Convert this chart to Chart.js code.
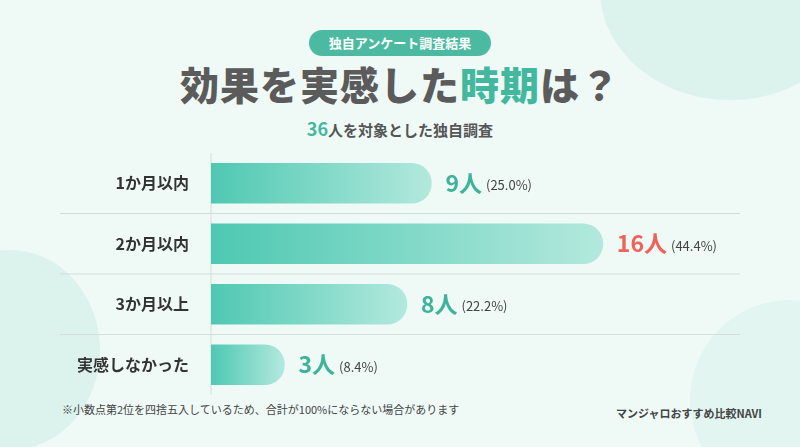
<!doctype html>
<html lang="ja">
<head>
<meta charset="utf-8">
<script src="https://cdn.jsdelivr.net/npm/chart.js"></script>
<style>
  body { margin: 0; width: 800px; height: 447px; overflow: hidden; background: #effaf7; font-family: "Noto Sans CJK JP", "Noto Sans", sans-serif; position: relative; }
  .blob { position: absolute; border-radius: 50%; background: #dcf2ed; }
  .badge { position: absolute; left: 309px; top: 30px; width: 182px; height: 26px; border-radius: 13px; background: #4cbaa1; color: #fff; font-size: 13px; font-weight: bold; text-align: center; line-height: 26px; }
  .title { position: absolute; left: 0; width: 800px; top: 55px; text-align: center; font-size: 39px; font-weight: 900; color: #5b5b5b; letter-spacing: 1px; }
  .title span { color: #44b89e; }
  .sub { position: absolute; left: 0; width: 800px; top: 115px; text-align: center; font-size: 15px; font-weight: bold; color: #555; }
  .sub span { color: #44b89e; font-size: 18px; }
  .note { position: absolute; left: 62px; top: 401px; font-size: 11px; color: #444; }
  .brand { position: absolute; right: 38px; top: 405px; font-size: 11px; font-weight: bold; color: #444; }
  #wrap { position: absolute; left: 0; top: 0; width: 800px; height: 447px; }
</style>
</head>
<body>
<div class="blob" style="left:600px;top:-120px;width:260px;height:220px;"></div>
<div class="blob" style="left:-80px;top:250px;width:180px;height:200px;"></div>
<div class="blob" style="left:690px;top:300px;width:200px;height:200px;background:#e2f5f0"></div>
<div class="badge">独自アンケート調査結果</div>
<div class="title">効果を実感した<span>時期</span>は？</div>
<div class="sub"><span>36</span>人を対象とした独自調査</div>
<div class="note">※小数点第2位を四捨五入しているため、合計が100%にならない場合があります</div>
<div class="brand">マンジャロおすすめ比較NAVI</div>
<div id="wrap"><canvas id="c"></canvas></div>
<script>
const categories = ['1か月以内', '2か月以内', '3か月以上', '実感しなかった'];
const counts = [9, 16, 8, 3];
const percents = ['25.0%', '44.4%', '22.2%', '8.4%'];

const valueLabels = {
  id: 'valueLabels',
  afterDatasetsDraw(chart) {
    const ctx = chart.ctx;
    const meta = chart.getDatasetMeta(0);
    const max = Math.max(...counts);
    ctx.save();
    ctx.textBaseline = 'middle';
    meta.data.forEach((bar, i) => {
      let x = bar.x + 14;
      ctx.font = 'bold 23px "Noto Sans CJK JP"';
      ctx.fillStyle = counts[i] === max ? '#ef625a' : '#3fb39a';
      const t = counts[i] + '人';
      ctx.fillText(t, x, bar.y);
      x += ctx.measureText(t).width + 4;
      ctx.font = '13px "Noto Sans CJK JP"';
      ctx.fillStyle = '#444';
      ctx.fillText('(' + percents[i] + ')', x, bar.y + 2);
    });
    ctx.restore();
  }
};

const separators = {
  id: 'separators',
  beforeDatasetsDraw(chart) {
    const ctx = chart.ctx, y = chart.scales.y, a = chart.chartArea;
    ctx.save();
    ctx.strokeStyle = '#d3dedb';
    ctx.lineWidth = 1;
    for (let i = 0; i < categories.length - 1; i++) {
      const py = (y.getPixelForValue(i) + y.getPixelForValue(i + 1)) / 2;
      ctx.beginPath(); ctx.moveTo(60, py); ctx.lineTo(740, py); ctx.stroke();
    }
    ctx.beginPath(); ctx.moveTo(a.left, a.top); ctx.lineTo(a.left, a.bottom); ctx.stroke();
    ctx.restore();
  }
};

new Chart(document.getElementById('c'), {
  type: 'bar',
  data: {
    labels: categories,
    datasets: [{
      data: counts,
      backgroundColor(c) {
        const a = c.chart.chartArea;
        const xs = c.chart.scales.x;
        if (!a || !xs || c.raw == null) return '#4ecbb5';
        const end = xs.getPixelForValue(c.raw);
        const g = c.chart.ctx.createLinearGradient(a.left, 0, Math.max(end, a.left + 1), 0);
        g.addColorStop(0, '#4ec8b2');
        g.addColorStop(1, '#b3e9dd');
        return g;
      },
      borderRadius: { topRight: 20, bottomRight: 20 },
      borderSkipped: false,
      barThickness: 40
    }]
  },
  options: {
    indexAxis: 'y',
    responsive: true,
    maintainAspectRatio: false,
    animation: false,
    layout: { padding: { top: 153, bottom: 52, right: 60 } },
    plugins: { legend: { display: false }, tooltip: { enabled: false } },
    scales: {
      x: { min: 0, max: 21.6, display: false },
      y: {
        grid: { display: false },
        border: { display: false },
        afterFit(s) { s.width = 211; },
        ticks: { color: '#333', padding: 14, font: { size: 16, weight: 'bold', family: '"Noto Sans CJK JP"' } }
      }
    }
  },
  plugins: [separators, valueLabels]
});
</script>
</body>
</html>
